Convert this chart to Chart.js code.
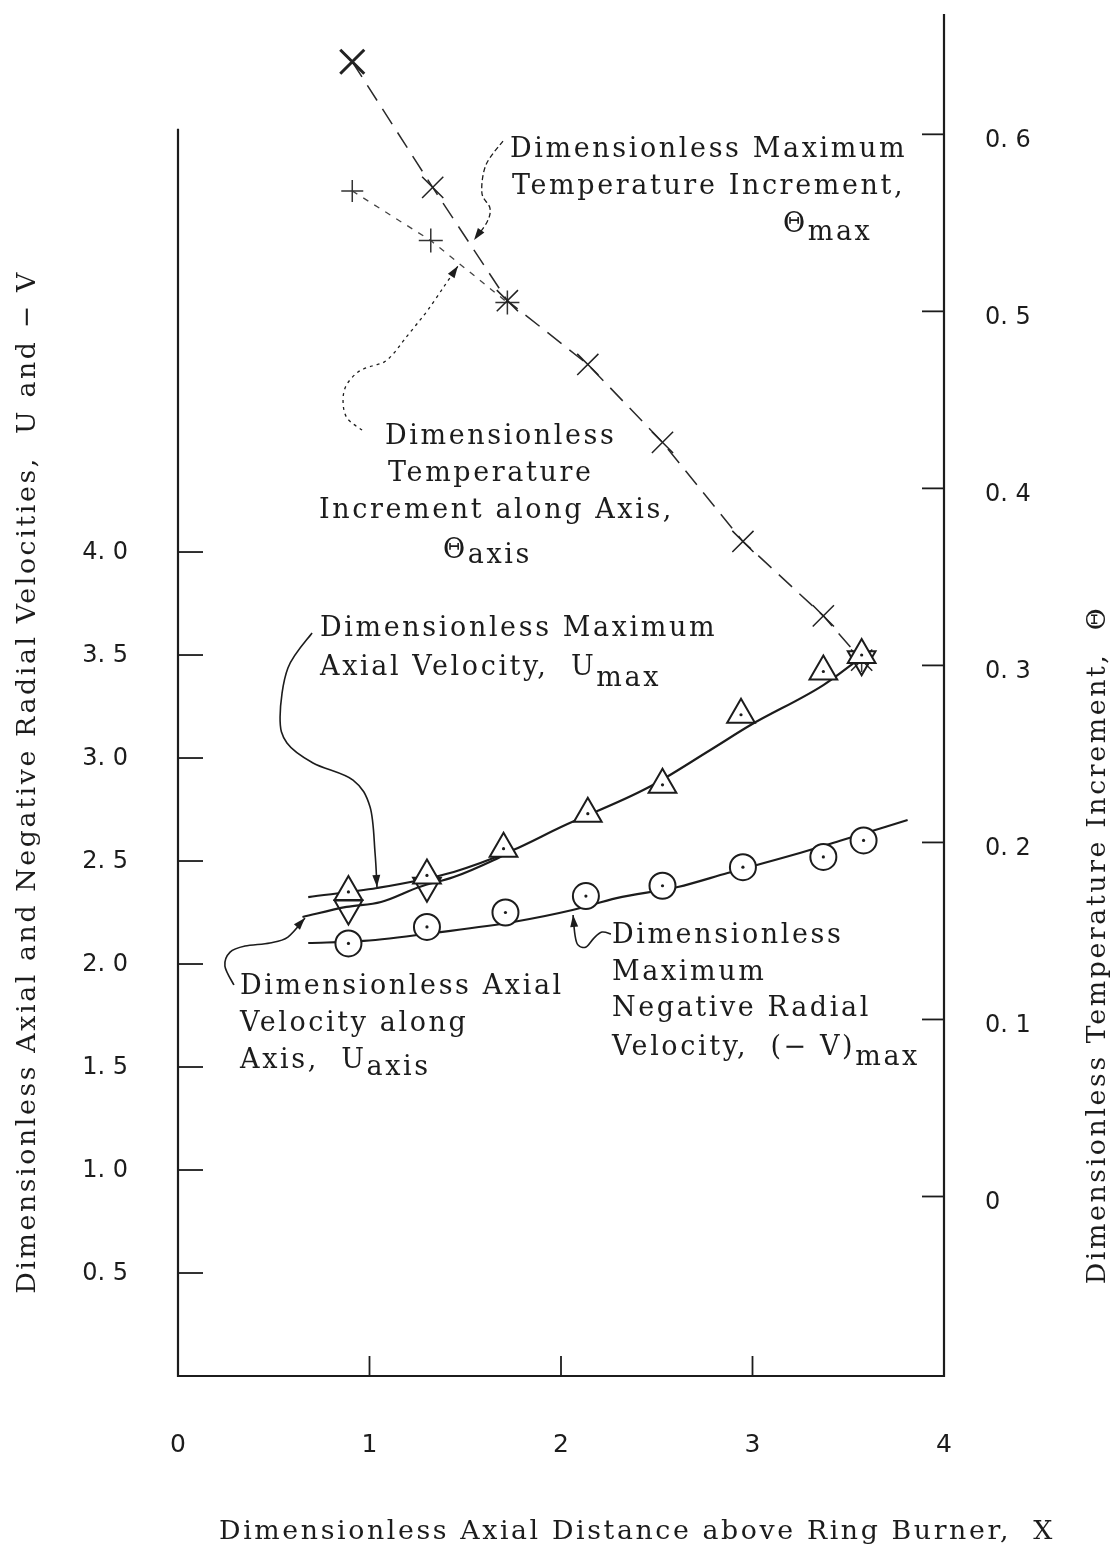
<!DOCTYPE html>
<html>
<head>
<meta charset="utf-8">
<script src="https://cdn.jsdelivr.net/npm/chart.js@4.4.1/dist/chart.umd.min.js"></script>
<style>
  html, body { margin: 0; padding: 0; background: #fff; }
  canvas { display: block; }
</style>
</head>
<body>
<canvas id="c" width="1114" height="1550"></canvas>
<script>
// ---- axis ticks ----
const xTickValues = [0, 1, 2, 3, 4];
const xTickLabels = ['0', '1', '2', '3', '4'];
const uTickValues = [0.5, 1.0, 1.5, 2.0, 2.5, 3.0, 3.5, 4.0];
const uTickLabels = ['0. 5', '1. 0', '1. 5', '2. 0', '2. 5', '3. 0', '3. 5', '4. 0'];
const thetaTickValues = [0, 0.1, 0.2, 0.3, 0.4, 0.5, 0.6];
const thetaTickLabels = ['0', '0. 1', '0. 2', '0. 3', '0. 4', '0. 5', '0. 6'];

// ---- measured stations ----
const xUMax = [0.89, 1.30, 1.70, 2.14, 2.53, 2.94, 3.37, 3.57];
const uMax = [2.35, 2.43, 2.56, 2.73, 2.87, 3.21, 3.42, 3.50];
const xUAxis = [0.89, 1.30, 3.57];
const uAxis = [2.27, 2.38, 3.48];
const xVMax = [0.89, 1.30, 1.71, 2.13, 2.53, 2.95, 3.37, 3.58];
const vMax = [2.10, 2.18, 2.25, 2.33, 2.38, 2.47, 2.52, 2.60];
const xThetaMax = [0.91, 1.33, 1.72, 2.14, 2.53, 2.95, 3.37, 3.57];
const thetaMax = [0.641, 0.570, 0.506, 0.470, 0.426, 0.370, 0.328, 0.303];
const xThetaAxis = [0.91, 1.32, 1.72, 3.57];
const thetaAxis = [0.568, 0.540, 0.505, 0.303];

// ---- faired curves ----
const xUMaxCurve = [0.68, 1.04, 1.44, 1.75, 2.00, 2.45, 2.78, 2.99, 3.37, 3.57];
const uMaxCurve = [2.325, 2.369, 2.447, 2.553, 2.665, 2.854, 3.039, 3.160, 3.354, 3.49];
const xUAxisCurve = [0.65, 0.88, 1.06, 1.26, 1.44, 1.65, 1.75];
const uAxisCurve = [2.228, 2.277, 2.301, 2.374, 2.422, 2.505, 2.553];
const xVCurve = [0.68, 0.97, 1.37, 1.75, 2.06, 2.29, 2.61, 2.87, 3.21, 3.47, 3.81];
const vCurve = [2.102, 2.112, 2.155, 2.204, 2.262, 2.320, 2.374, 2.442, 2.529, 2.602, 2.699];

const zip = (xs, ys) => xs.map((x, i) => ({ x, y: ys[i] }));

const ink = '#1c1c1c';
const serif = '"DejaVu Serif", serif';
const tickFont = { family: '"DejaVu Sans", sans-serif', size: 24 };
const leftSpineTop = 6.05;   // upper end of the velocity axis line

// ---- callout text (positions in X / velocity units) ----
const notes = [
  { x: 1.734, u: 5.917, parts: [['Dimensionless Maximum', 0]] },
  { x: 1.744, u: 5.738, parts: [['Temperature Increment,', 0]] },
  { x: 3.159, u: 5.553, parts: [['\u0398', 0], ['max', 8]] },
  { x: 1.081, u: 4.524, parts: [['Dimensionless', 0]] },
  { x: 1.097, u: 4.345, parts: [['Temperature', 0]] },
  { x: 0.736, u: 4.165, parts: [['Increment along Axis,', 0]] },
  { x: 1.384, u: 3.971, parts: [['\u0398', 0], ['axis', 5]] },
  { x: 0.742, u: 3.592, parts: [['Dimensionless Maximum', 0]] },
  { x: 0.742, u: 3.403, parts: [['Axial Velocity,  U', 0], ['max', 11]] },
  { x: 0.324, u: 1.854, parts: [['Dimensionless Axial', 0]] },
  { x: 0.324, u: 1.675, parts: [['Velocity along', 0]] },
  { x: 0.324, u: 1.495, parts: [['Axis,  U', 0], ['axis', 7]] },
  { x: 2.266, u: 2.102, parts: [['Dimensionless', 0]] },
  { x: 2.266, u: 1.922, parts: [['Maximum', 0]] },
  { x: 2.266, u: 1.748, parts: [['Negative Radial', 0]] },
  { x: 2.266, u: 1.558, parts: [['Velocity,  (\u2212 V)', 0], ['max', 10]] }
];

// leader curves from callouts to the curves they name
const leaders = [
  { pts: [[1.697, 5.995], [1.608, 5.879], [1.587, 5.743], [1.629, 5.670], [1.614, 5.602], [1.546, 5.515]], dash: [5, 3], width: 1.3 },
  { pts: [[0.961, 4.592], [0.883, 4.650], [0.862, 4.728], [0.877, 4.806], [0.940, 4.874], [1.013, 4.903], [1.076, 4.922], [1.128, 4.966], [1.180, 5.029], [1.243, 5.102], [1.305, 5.175], [1.384, 5.282], [1.462, 5.388]], dash: [3, 4], width: 1.3 },
  { pts: [[0.700, 3.607], [0.574, 3.437], [0.533, 3.199], [0.569, 3.073], [0.705, 2.976], [0.914, 2.893], [1.003, 2.762], [1.029, 2.539], [1.039, 2.374]], dash: [], width: 1.6 },
  { pts: [[0.292, 1.898], [0.245, 1.990], [0.272, 2.058], [0.350, 2.087], [0.480, 2.102], [0.574, 2.131], [0.663, 2.223]], dash: [], width: 1.6 },
  { pts: [[2.261, 2.146], [2.214, 2.155], [2.172, 2.126], [2.131, 2.083], [2.089, 2.092], [2.073, 2.141], [2.063, 2.238]], dash: [], width: 1.6 }
];

function smoothPath(ctx, pts) {
  ctx.moveTo(pts[0][0], pts[0][1]);
  for (let i = 0; i < pts.length - 1; i++) {
    const p0 = pts[Math.max(i - 1, 0)], p1 = pts[i], p2 = pts[i + 1], p3 = pts[Math.min(i + 2, pts.length - 1)];
    ctx.bezierCurveTo(
      p1[0] + (p2[0] - p0[0]) / 6, p1[1] + (p2[1] - p0[1]) / 6,
      p2[0] - (p3[0] - p1[0]) / 6, p2[1] - (p3[1] - p1[1]) / 6,
      p2[0], p2[1]);
  }
}
function arrowHead(ctx, from, to, len, half) {
  const a = Math.atan2(to[1] - from[1], to[0] - from[0]);
  const bx = to[0] - len * Math.cos(a), by = to[1] - len * Math.sin(a);
  ctx.beginPath();
  ctx.moveTo(to[0], to[1]);
  ctx.lineTo(bx + half * Math.sin(a), by - half * Math.cos(a));
  ctx.lineTo(bx - half * Math.sin(a), by + half * Math.cos(a));
  ctx.closePath();
  ctx.fill();
}

// axis lines, inward tick marks, callouts and titles
const framePlugin = {
  id: 'frame',
  beforeDatasetsDraw(chart) {
    const { ctx, chartArea: a, scales: { x, yU, yT } } = chart;
    const seg = (x1, y1, x2, y2) => { ctx.beginPath(); ctx.moveTo(x1, y1); ctx.lineTo(x2, y2); ctx.stroke(); };
    ctx.save();
    ctx.strokeStyle = ink;
    ctx.lineCap = 'square';
    ctx.lineWidth = 2.2;
    ctx.beginPath();
    ctx.moveTo(a.left, yU.getPixelForValue(leftSpineTop));
    ctx.lineTo(a.left, a.bottom);
    ctx.lineTo(a.right, a.bottom);
    ctx.lineTo(a.right, a.top);
    ctx.stroke();
    ctx.lineCap = 'butt';
    ctx.lineWidth = 1.8;
    uTickValues.forEach(v => { const py = yU.getPixelForValue(v); seg(a.left, py, a.left + 25, py); });
    thetaTickValues.forEach(v => { const py = yT.getPixelForValue(v); seg(a.right - 22, py, a.right, py); });
    xTickValues.slice(1, -1).forEach(v => { const px = x.getPixelForValue(v); seg(px, a.bottom, px, a.bottom - 20); });
    ctx.restore();
  },
  afterDraw(chart) {
    const { ctx, scales: { x, yU } } = chart;
    const P = (p) => [x.getPixelForValue(p[0]), yU.getPixelForValue(p[1])];
    ctx.save();
    ctx.fillStyle = ink;
    ctx.strokeStyle = ink;
    leaders.forEach(l => {
      const pts = l.pts.map(P);
      ctx.lineWidth = l.width;
      ctx.setLineDash(l.dash);
      ctx.beginPath();
      smoothPath(ctx, pts);
      ctx.stroke();
      ctx.setLineDash([]);
      arrowHead(ctx, pts[pts.length - 2], pts[pts.length - 1], 12, 4);
    });
    ctx.font = '27px ' + serif;
    ctx.letterSpacing = '2.6px';
    ctx.textAlign = 'left';
    ctx.textBaseline = 'alphabetic';
    notes.forEach(n => {
      let [px, py] = P([n.x, n.u]);
      n.parts.forEach(([t, dy]) => {
        ctx.fillText(t, px, py + dy);
        px += ctx.measureText(t).width;
      });
    });
    ctx.font = '26.8px ' + serif;
    ctx.textAlign = 'center';
    ctx.textBaseline = 'middle';
    ctx.fillText('Dimensionless Axial Distance above Ring Burner,  X', 637, 1532);
    ctx.save();
    ctx.translate(28, 782);
    ctx.rotate(-Math.PI / 2);
    ctx.fillText('Dimensionless Axial and Negative Radial Velocities,  U and \u2212 V', 0, 0);
    ctx.restore();
    ctx.save();
    ctx.translate(1098, 945);
    ctx.rotate(-Math.PI / 2);
    ctx.fillText('Dimensionless Temperature Increment,  \u0398', 0, 0);
    ctx.restore();
    ctx.restore();
  }
};

// keep the plot box fixed: no extra room reserved for edge labels
function fixBox(s, w, h) {
  if (w !== null) s.width = w;
  if (h !== null) s.height = h;
  s.paddingTop = 0; s.paddingBottom = 0; s.paddingLeft = 0; s.paddingRight = 0;
}

const curveStyle = {
  showLine: true, pointRadius: 0, pointHoverRadius: 0, borderColor: ink, borderWidth: 2.2,
  cubicInterpolationMode: 'monotone', yAxisID: 'yU', order: 5
};
const dotStyle = {
  showLine: false, pointStyle: 'circle', pointRadius: 1.6, pointBorderWidth: 0,
  pointBackgroundColor: ink, yAxisID: 'yU', order: 0
};

new Chart(document.getElementById('c'), {
  type: 'scatter',
  data: {
    datasets: [
      { label: 'Umax curve', data: zip(xUMaxCurve, uMaxCurve), ...curveStyle },
      { label: 'Uaxis curve', data: zip(xUAxisCurve, uAxisCurve), ...curveStyle },
      { label: '(-V)max curve', data: zip(xVCurve, vCurve), ...curveStyle },
      {
        label: '\u0398max', data: zip(xThetaMax, thetaMax), yAxisID: 'yT', order: 4,
        showLine: true, borderColor: '#2a2a2a', borderWidth: 1.5, borderDash: [18, 10],
        pointStyle: 'crossRot', pointBorderColor: '#222',
        pointRadius: c => c.dataIndex === 0 ? 17 : 15,
        pointBorderWidth: c => c.dataIndex === 0 ? 3 : 1.5
      },
      {
        label: '\u0398axis', data: zip(xThetaAxis, thetaAxis), yAxisID: 'yT', order: 4,
        showLine: true, borderColor: '#444', borderWidth: 1.3, borderDash: [6, 7],
        segment: { borderColor: c => c.p0DataIndex >= 2 ? 'rgba(0,0,0,0)' : '#444' },
        pointStyle: 'cross', pointBorderColor: '#333',
        pointRadius: c => c.dataIndex === 0 ? 11 : 12, pointBorderWidth: 1.5
      },
      {
        label: 'Umax', data: zip(xUMax, uMax), yAxisID: 'yU', order: 1, showLine: false,
        pointStyle: 'triangle', pointRadius: 16, pointBorderWidth: 2,
        pointBorderColor: ink, pointBackgroundColor: '#fff'
      },
      {
        label: 'Uaxis', data: zip(xUAxis, uAxis), yAxisID: 'yU', order: 2, showLine: false,
        pointStyle: 'triangle', pointRotation: 180, pointRadius: 16, pointBorderWidth: 2,
        pointBorderColor: ink, pointBackgroundColor: 'rgba(255,255,255,0)'
      },
      {
        label: '(-V)max', data: zip(xVMax, vMax), yAxisID: 'yU', order: 1, showLine: false,
        pointStyle: 'circle', pointRadius: 13, pointBorderWidth: 2,
        pointBorderColor: ink, pointBackgroundColor: '#fff'
      },
      { label: 'Umax centre', data: zip(xUMax, uMax), ...dotStyle },
      { label: '(-V)max centre', data: zip(xVMax, vMax), ...dotStyle }
    ]
  },
  options: {
    responsive: false,
    animation: false,
    devicePixelRatio: 1,
    layout: { autoPadding: false, padding: { top: 15, left: 0, right: 0, bottom: 0 } },
    plugins: { legend: { display: false }, tooltip: { enabled: false } },
    scales: {
      x: {
        type: 'linear', position: 'bottom', min: 0, max: 4,
        afterBuildTicks: s => { s.ticks = xTickValues.map(v => ({ value: v })); },
        afterFit: s => fixBox(s, null, 174),
        grid: { display: false, drawTicks: false }, border: { display: false },
        ticks: {
          callback: (v, i) => xTickLabels[i], padding: 54, maxRotation: 0,
          color: ink, font: { ...tickFont, size: 25 }
        }
      },
      yU: {
        type: 'linear', position: 'left', min: 0, max: 6.607,
        afterBuildTicks: s => { s.ticks = uTickValues.map(v => ({ value: v })); },
        afterFit: s => fixBox(s, 178, null),
        grid: { display: false, drawTicks: false }, border: { display: false },
        ticks: {
          callback: (v, i) => uTickLabels[i], padding: 50, labelOffset: 1,
          color: ink, font: tickFont
        }
      },
      yT: {
        type: 'linear', position: 'right', min: -0.1014, max: 0.6674,
        afterBuildTicks: s => { s.ticks = thetaTickValues.map(v => ({ value: v })); },
        afterFit: s => fixBox(s, 170, null),
        grid: { display: false, drawTicks: false }, border: { display: false },
        ticks: {
          callback: (v, i) => thetaTickLabels[i], padding: 41, labelOffset: 6,
          color: ink, font: tickFont
        }
      }
    }
  },
  plugins: [framePlugin]
});
</script>
</body>
</html>
